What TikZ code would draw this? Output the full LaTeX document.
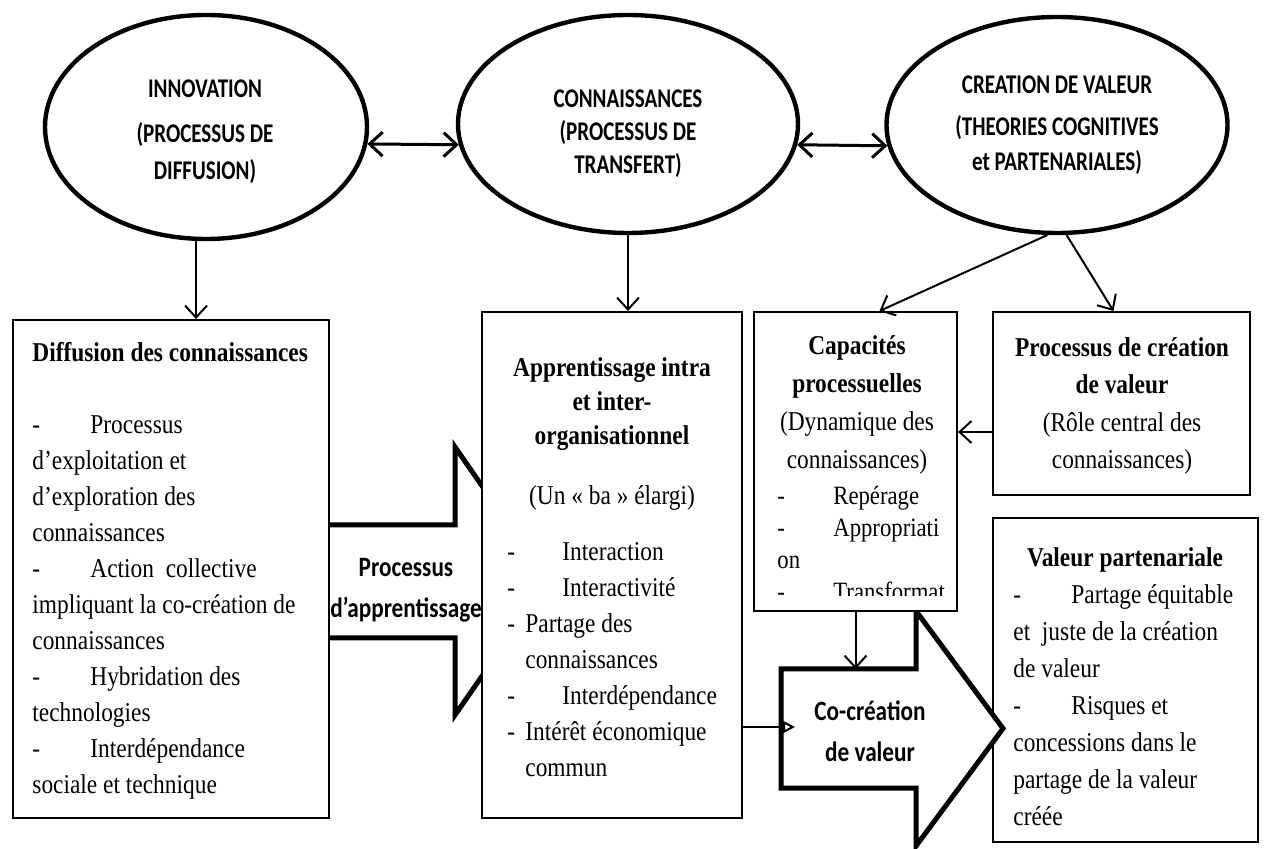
\documentclass[tikz,border=0pt]{standalone}
\usepackage{fontspec}
\setmainfont{Liberation Serif}[FakeStretch=0.86]
\newfontfamily\ellfont{Carlito}[FakeStretch=0.78]
\newfontfamily\lblfont{Carlito}[FakeStretch=0.83]
\usetikzlibrary{arrows.meta,calc,shapes.geometric}
% dash followed by a tab stop
\newcommand{\dtab}[1][28pt]{\makebox[#1][l]{-}}
\tikzset{
  x=0.5pt, y=-0.5pt,
  oval/.style={ellipse, draw, line width=2.2pt, inner sep=0pt},
  ovaltext/.style={font=\ellfont\bfseries\fontsize{13.5}{16.5}\selectfont, align=center, inner sep=0pt, anchor=north},
  box/.style={rectangle, draw, fill=white, line width=1pt, inner sep=0pt},
  bodytext/.style={inner sep=0pt, align=left, anchor=north west},
  headtext/.style={inner sep=0pt, align=center, anchor=north},
  bigarrow/.style={draw, fill=white, line width=2.5pt, line join=miter},
  arrlabel/.style={font=\lblfont\bfseries\fontsize{14}{20.5}\selectfont, align=center, inner sep=0pt, anchor=north},
  conn/.style={line width=1pt, -{Straight Barb[length=6pt,width=11pt]}},
  dbl/.style={line width=1.5pt, {Straight Barb[length=6.5pt,width=12pt]}-{Straight Barb[length=6.5pt,width=12pt]}},
  smallarr/.style={line width=1pt, -{Triangle[open,length=6pt,width=6pt]}}
}
\begin{document}
\begin{tikzpicture}
\fill[white] (0,0) rectangle (1264,849);
\useasboundingbox (0,0) rectangle (1264,849);

% learning-process arrow (partly hidden by the two boxes)
\draw[bigarrow] (300,525) -- (455,525) -- (455,447) -- (548,581) -- (455,715) -- (455,638) -- (300,638) -- cycle;
\node[arrlabel] (lab1) at (406,558) {Processus\\d’apprentissage};

% rectangular boxes
\node[box, minimum width=158pt, minimum height=249pt] (b1) at (171,569) {};
\node[box, minimum width=130pt, minimum height=253pt] (b2) at (612,565) {};
\node[box, minimum width=128.5pt, minimum height=91.5pt] (b4) at (1121.5,403.5) {};
\node[box, minimum width=132.5pt, minimum height=162pt] (b5) at (1125.5,680) {};

% value co-creation arrow
\draw[bigarrow] (781,669) -- (916,669) -- (916,611) -- (1003,728.5) -- (916,846) -- (916,788) -- (781,788) -- cycle;
\node[arrlabel] (lab2) at (870,700) {Co-création\\de valeur};

\node[box, minimum width=101.5pt, minimum height=149.5pt] (b3) at (855.5,461.5) {};

% box 1
\node[bodytext, font=\bfseries\fontsize{13.6}{18}\selectfont] (t1h) at (32,342) {Diffusion des connaissances};
\node[bodytext, font=\fontsize{13.6}{18}\selectfont] (t1b) at (32,415) {%
\dtab[29pt]Processus\\
d’exploitation et\\
d’exploration des\\
connaissances\\
\dtab[29pt]Action\ \ collective\\
impliquant la co-création de\\
connaissances\\
\dtab[29pt]Hybridation des\\
technologies\\
\dtab[29pt]Interdépendance\\
sociale et technique};

% box 2
\node[headtext, font=\fontsize{13.6}{17}\selectfont] (t2h) at (612,357) {%
\textbf{Apprentissage intra}\\
\textbf{et inter-}\\
\textbf{organisationnel}\\[13pt]
(Un « ba » élargi)};
\node[bodytext, font=\fontsize{13.6}{18}\selectfont] (t2b) at (507,542) {%
\dtab[27.5pt]Interaction\\
\dtab[27.5pt]Interactivité\\
\dtab[9pt]Partage des\\
\hspace*{9pt}connaissances\\
\dtab[27.5pt]Interdépendance\\
\dtab[9pt]Intérêt économique\\
\hspace*{9pt}commun};

% box 3 (its last line runs past the inner margin and is cut off)
\node[headtext, font=\fontsize{13.6}{19}\selectfont] (t3h) at (857,335) {%
\textbf{Capacités}\\
\textbf{processuelles}\\
(Dynamique des\\
connaissances)};
\begin{scope}
\clip ($(b3.north west)+(2,2)$) rectangle ($(b3.south east)+(-2,-16)$);
\node[bodytext, font=\fontsize{13.2}{16}\selectfont] (t3b) at (777,486) {%
\dtab[28pt]Repérage\\
\dtab[28pt]Appropriati\\
on\\
\dtab[28pt]Transformat};
\end{scope}

% box 4
\node[headtext, font=\fontsize{13.6}{18.75}\selectfont] (t4h) at (1122,337) {%
\textbf{Processus de création}\\
\textbf{de valeur}\\
(Rôle central des\\
connaissances)};

% box 5
\node[headtext, font=\bfseries\fontsize{13.6}{18.5}\selectfont] (t5h) at (1125,547) {Valeur partenariale};
\node[bodytext, font=\fontsize{13.6}{18.5}\selectfont] (t5b) at (1013,584) {%
\dtab[29pt]Partage équitable\\
et\ \ juste de la création\\
de valeur\\
\dtab[29pt]Risques et\\
concessions dans le\\
partage de la valeur\\
créée};

% ellipses
\node[oval, minimum width=161pt, minimum height=112pt] (e1) at (206,127) {};
\node[oval, minimum width=170pt, minimum height=109pt] (e2) at (628,124) {};
\node[oval, minimum width=170.5pt, minimum height=108pt] (e3) at (1057,125) {};
\node[ovaltext] (e1t) at (205,79) {INNOVATION\\[6pt](PROCESSUS DE\\[2pt]DIFFUSION)};
\node[ovaltext] (e2t) at (628,89) {CONNAISSANCES\\(PROCESSUS DE\\TRANSFERT)};
\node[ovaltext] (e3t) at (1057,75.5) {CREATION DE VALEUR\\[4.5pt](THEORIES COGNITIVES\\[1pt]et PARTENARIALES)};

% connectors
\draw[dbl] (e1.-6.5) -- (e2.187);
\draw[dbl] (e2.-7) -- (e3.187);
\draw[conn] (e1.265) -- (e1.265 |- b1.north);
\draw[conn] (e2.south) -- (e2.south |- b2.north);
\draw[conn] (e3.265) -- ($(b3.north)+(24,0)$);
\draw[conn] (e3.275) -- ($(b4.north)+(-8,0)$);
\coordinate (k) at ($(b4.west)+(0,28.5)$);
\draw[conn] (k) -- (k -| b3.east);
\coordinate (a2top) at (855.5,669);
\draw[conn] (b3.south) -- (a2top);
\coordinate (a2in) at (795,727);
\draw[smallarr] (b2.east |- a2in) -- (a2in);
\end{tikzpicture}
\end{document}
